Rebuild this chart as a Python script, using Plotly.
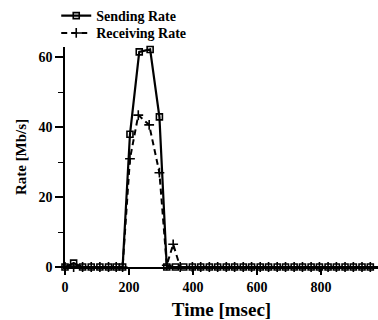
import plotly.graph_objects as go

# Data
send_t = [0, 27, 55, 82, 109, 136, 160, 180, 203, 232, 266, 295, 318, 345, 371, 398,
          424, 451, 477, 504, 530, 557, 583, 610, 636, 663, 689, 716, 742, 769, 795,
          822, 848, 875, 901, 928, 954, 980]
send_v = [0, 1.1, 0, 0, 0, 0, 0, 0, 38, 61.6, 62.3, 43, 0, 0, 0, 0,
          0, 0, 0, 0, 0, 0, 0, 0, 0, 0, 0, 0, 0, 0, 0,
          0, 0, 0, 0, 0, 0, 0]

recv_t = [0, 27, 55, 82, 109, 136, 160, 180, 203, 229, 263, 295, 318, 338, 360, 398,
          424, 451, 477, 504, 530, 557, 583, 610, 636, 663, 689, 716, 742, 769, 795,
          822, 848, 875, 901, 928, 954, 980]
recv_v = [0, 0, 0, 0, 0, 0, 0, 0, 31, 43.5, 40.7, 27, 0.5, 6.5, 0, 0,
          0, 0, 0, 0, 0, 0, 0, 0, 0, 0, 0, 0, 0, 0, 0,
          0, 0, 0, 0, 0, 0, 0]

x_ticks = [0, 200, 400, 600, 800]
y_ticks = [0, 20, 40, 60]

FONT = "Liberation Serif"

fig = go.Figure()
fig.add_trace(go.Scatter(
    x=send_t, y=send_v, name="Sending Rate", mode="lines+markers",
    line=dict(color="black", width=2.2),
    marker=dict(symbol="square-open", size=6, color="black", line=dict(width=1.6, color="black")),
    cliponaxis=False, legend="legend",
))
fig.add_trace(go.Scatter(
    x=recv_t, y=recv_v, name="Receiving Rate", mode="lines+markers",
    line=dict(color="black", width=2, dash="6px,4px"),
    marker=dict(symbol="cross-thin-open", size=7, color="black", line=dict(width=1.6, color="black")),
    cliponaxis=False, legend="legend2",
))

leg_common = dict(xanchor="left", yanchor="middle", bgcolor="rgba(0,0,0,0)",
                  font=dict(family=FONT, size=14, weight="bold"), itemwidth=30)

fig.update_layout(
    width=378, height=320,
    margin=dict(l=65, r=0, t=40, b=53.3),
    paper_bgcolor="white", plot_bgcolor="white",
    font=dict(family=FONT, size=14, color="black", weight="bold"),
    showlegend=True,
    legend=dict(x=-0.028, y=1.141, **leg_common),
    legend2=dict(x=-0.028, y=1.062, **leg_common),
)
fig.update_xaxes(
    range=[0, 978], tickvals=x_ticks, ticks="outside", ticklen=6, tickwidth=1.5,
    tickcolor="black", showline=True, linecolor="black", linewidth=1.5,
    showgrid=False, zeroline=False,
    title=dict(text="Time [msec]", font=dict(family=FONT, size=19, weight="bold"), standoff=9),
    tickfont=dict(family=FONT, size=14, weight="bold"),
)
fig.update_yaxes(
    range=[0, 63], tickvals=y_ticks, ticks="outside", ticklen=8, tickwidth=1.5,
    tickcolor="black", showline=True, linecolor="black", linewidth=1.5,
    showgrid=False, zeroline=False,
    minor=dict(tickvals=[10, 30, 50], ticks="outside", ticklen=5, tickwidth=1.2, tickcolor="black"),
    title=dict(text="Rate [Mb/s]", font=dict(family=FONT, size=15, weight="bold"), standoff=8),
    tickfont=dict(family=FONT, size=14, weight="bold"),
)

fig.write_html("out.html", config={"displayModeBar": False},
               post_script="document.body.style.margin='0';")
